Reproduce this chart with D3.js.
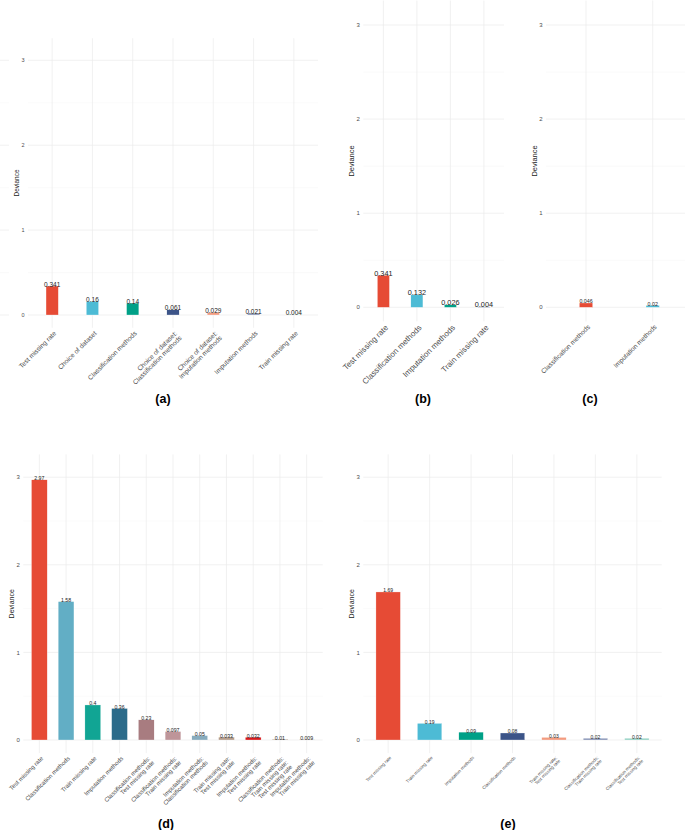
<!DOCTYPE html>
<html>
<head>
<meta charset="utf-8">
<script src="https://cdn.jsdelivr.net/npm/d3@7"></script>
<style>
  html, body { margin: 0; padding: 0; background: #fff; }
  svg { display: block; font-family: "Liberation Sans", Arial, Helvetica, sans-serif; }
</style>
</head>
<body>
<svg id="chart" width="685" height="830"></svg>
<script>
// ---------------- DATA ----------------
const yTicks = [0, 1, 2, 3];
const yMinor = [0.5, 1.5, 2.5];

const catsA = ["Test missing rate", "Choice of dataset", "Classification methods",
  "Choice of dataset:\nClassification methods", "Choice of dataset:\nImputation methods",
  "Imputation methods", "Train missing rate"];
const valsA = [0.341, 0.16, 0.14, 0.061, 0.029, 0.021, 0.004];
const colsA = ["#E64B35", "#4DBBD5", "#00A087", "#3C5488", "#F39B7F", "#8491B4", "#91D1C2"];

const catsB = ["Test missing rate", "Classification methods", "Imputation methods", "Train missing rate"];
const valsB = [0.341, 0.132, 0.026, 0.004];
const colsB = ["#E64B35", "#4DBBD5", "#00A087", "#3C5488"];

const catsC = ["Classification methods", "Imputation methods"];
const valsC = [0.046, 0.02];
const colsC = ["#E64B35", "#4DBBD5"];

const catsD = ["Test missing rate", "Classification methods", "Train missing rate", "Imputation methods",
  "Classification methods:\nTest missing rate", "Classification methods:\nTrain missing rate",
  "Imputation methods:\nClassification methods", "Train missing rate:\nTest missing rate",
  "Imputation methods:\nTest missing rate", "Classification methods:\nTrain missing rate:\nTest missing rate",
  "Imputation methods:\nTrain missing rate"];
const valsD = [2.97, 1.58, 0.4, 0.36, 0.23, 0.097, 0.05, 0.033, 0.032, 0.01, 0.009];
const labsD = ["2.97", "1.58", "0.4", "0.36", "0.23", "0.097", "0.05", "0.033", "0.032", "0.01", "0.009"];
const colsD = ["#E64B35", "#62AEC5", "#11A594", "#2C6B8A", "#A87C80", "#BE9599", "#87ABBD",
  "#B49C8B", "#D7191C", "#B5A090", "#D9CCBF"];

const catsE = ["Test missing rate", "Train missing rate", "Imputation methods", "Classification methods",
  "Train missing rate:\nTest missing rate", "Classification methods:\nTrain missing rate",
  "Classification methods:\nTest missing rate"];
const valsE = [1.69, 0.19, 0.09, 0.08, 0.03, 0.02, 0.02];
const colsE = ["#E64B35", "#4DBBD5", "#00A087", "#3C5488", "#F39B7F", "#8491B4", "#91D1C2"];

// ---------------- LAYOUT ----------------
const panels = [
  { tag: "(a)", cats: catsA, vals: valsA, labs: valsA.map(String), cols: colsA,
    left: 28, right: 318, zeroY: 315, unit: 84.9, barFrac: 0.305, stub: [0, 9],
    fTick: 5.5, fTitle: 6.5, fX: 6.6, fVal: 6.5, tagX: 163, tagY: 398 },
  { tag: "(b)", cats: catsB, vals: valsB, labs: valsB.map(String), cols: colsB,
    left: 363.3, right: 504, zeroY: 307.3, unit: 94.1, barFrac: 0.36,
    fTick: 6, fTitle: 7.5, fX: 8, fVal: 7.3, tagX: 423, tagY: 398 },
  { tag: "(c)", cats: catsC, vals: valsC, labs: valsC.map(String), cols: colsC,
    left: 546, right: 692.7, zeroY: 307.3, unit: 94.1, barFrac: 0.2,
    fTick: 6, fTitle: 7.5, fX: 6.6, fVal: 5.3, tagX: 590, tagY: 398 },
  { tag: "(d)", cats: catsD, vals: valsD, labs: labsD, cols: colsD,
    left: 23.3, right: 322.7, zeroY: 740, unit: 87.6, barFrac: 0.59,
    fTick: 6, fTitle: 7, fX: 6, fVal: 5.2, tagX: 166, tagY: 823 },
  { tag: "(e)", cats: catsE, vals: valsE, labs: valsE.map(String), cols: colsE,
    left: 363.3, right: 661.7, zeroY: 740, unit: 87.6, barFrac: 0.59,
    fTick: 6, fTitle: 7, fX: 4.5, fVal: 5, tagX: 508, tagY: 823 }
];

const svg = d3.select("#chart");

panels.forEach(p => {
  const g = svg.append("g");
  const y = d3.scaleLinear().domain([0, 3]).range([p.zeroY, p.zeroY - 3 * p.unit]);
  const top = y(3.26), bottom = y(-0.15);
  const x = d3.scalePoint().domain(p.cats).range([p.left, p.right]).padding(0.6);
  const bw = x.step() * p.barFrac;

  // horizontal grid
  yMinor.forEach(v => {
    g.append("line").attr("x1", p.left).attr("x2", p.right).attr("y1", y(v)).attr("y2", y(v))
      .attr("stroke", "#F2F2F2").attr("stroke-width", 0.4);
    if (p.stub) g.append("line").attr("x1", p.stub[0]).attr("x2", p.stub[1]).attr("y1", y(v)).attr("y2", y(v))
      .attr("stroke", "#F2F2F2").attr("stroke-width", 0.4);
  });
  yTicks.forEach(v => {
    g.append("line").attr("x1", p.left).attr("x2", p.right).attr("y1", y(v)).attr("y2", y(v))
      .attr("stroke", "#EBEBEB").attr("stroke-width", 0.7);
    if (p.stub) g.append("line").attr("x1", p.stub[0]).attr("x2", p.stub[1]).attr("y1", y(v)).attr("y2", y(v))
      .attr("stroke", "#EBEBEB").attr("stroke-width", 0.7);
  });
  // vertical grid
  p.cats.forEach(c => {
    g.append("line").attr("x1", x(c)).attr("x2", x(c)).attr("y1", top).attr("y2", bottom)
      .attr("stroke", "#EBEBEB").attr("stroke-width", 0.7);
  });

  // y tick labels
  yTicks.forEach(v => {
    g.append("text").attr("x", p.left - 3.5).attr("y", y(v)).attr("dy", "0.35em")
      .attr("text-anchor", "end").attr("font-size", p.fTick).attr("fill", "#4D4D4D").text(v);
  });

  // y title
  g.append("text")
    .attr("transform", `translate(${p.left - 11.5},${(top + bottom) / 2}) rotate(-90)`)
    .attr("dy", "0.35em").attr("text-anchor", "middle")
    .attr("font-size", p.fTitle).attr("fill", "#1a1a1a").text("Deviance");

  // bars
  g.selectAll("rect.bar").data(p.cats).enter().append("rect")
    .attr("x", (c) => x(c) - bw / 2)
    .attr("width", bw)
    .attr("y", (c, i) => y(p.vals[i]))
    .attr("height", (c, i) => y(0) - y(p.vals[i]))
    .attr("fill", (c, i) => p.cols[i])
    .attr("stroke", "#ffffff").attr("stroke-width", 0.3);

  // value labels
  g.selectAll("text.val").data(p.cats).enter().append("text")
    .attr("x", c => x(c)).attr("y", (c, i) => y(p.vals[i]) + 0.5)
    .attr("text-anchor", "middle").attr("font-size", p.fVal).attr("fill", "#222")
    .text((c, i) => p.labs[i]);

  // x labels
  p.cats.forEach(c => {
    const lines = c.split("\n");
    const t = g.append("text")
      .attr("transform", `translate(${x(c) + 1},${bottom + 2.5}) rotate(-45)`)
      .attr("text-anchor", "end").attr("font-size", p.fX).attr("fill", "#4D4D4D");
    lines.forEach((ln, k) => {
      t.append("tspan").attr("x", 0).attr("y", 0).attr("dy", (0.75 + k * 1.0) + "em").text(ln);
    });
  });

  // panel tag
  svg.append("text").attr("x", p.tagX).attr("y", p.tagY).attr("dy", "0.36em")
    .attr("text-anchor", "middle").attr("font-size", 12.5).attr("font-weight", "bold")
    .attr("fill", "#000").text(p.tag);
});
</script>
</body>
</html>
